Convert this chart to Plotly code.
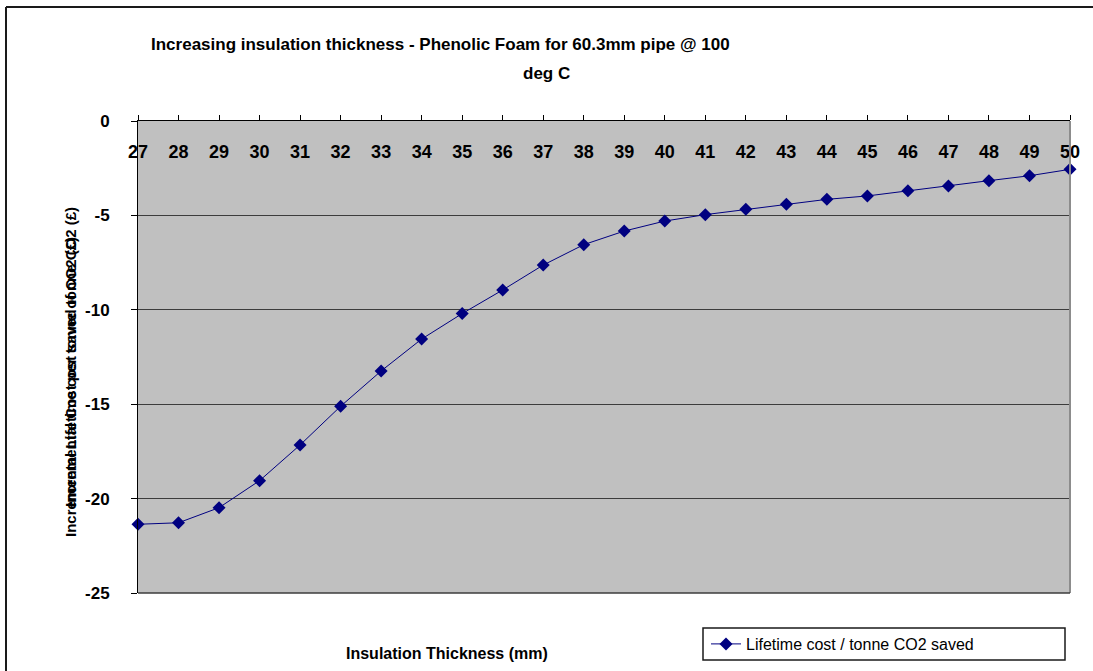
import plotly.graph_objects as go

# Insulation thickness (mm) and lifetime cost per tonne of CO2 saved (£)
thickness = [27, 28, 29, 30, 31, 32, 33, 34, 35, 36, 37, 38,
             39, 40, 41, 42, 43, 44, 45, 46, 47, 48, 49, 50]
cost_per_tonne = [-21.36, -21.28, -20.48, -19.05, -17.16, -15.11, -13.24, -11.55,
                  -10.20, -8.95, -7.63, -6.55, -5.83, -5.30, -4.96, -4.68,
                  -4.41, -4.15, -3.97, -3.69, -3.44, -3.16, -2.90, -2.56]

y_ticks = [0, -5, -10, -15, -20, -25]

title_line1 = "Increasing insulation thickness - Phenolic Foam for 60.3mm pipe @ 100"
title_line2 = "deg C"
x_title = "Insulation Thickness (mm)"
y_titles = ["Incremental Cost per tonne of CO2 (£)",
            "Incremental Lifetime cost saved tonne CO2 (£)"]
series_name = "Lifetime cost / tonne CO2 saved"

FONT = "Liberation Sans, Arial, sans-serif"
NAVY = "#000080"

fig = go.Figure()
fig.add_trace(go.Scatter(
    x=thickness, y=cost_per_tonne, mode="lines+markers", name=series_name,
    line=dict(color=NAVY, width=1),
    marker=dict(symbol="diamond", size=10, color=NAVY),
    cliponaxis=False,
))

W, H = 1093, 671
L, R, T, B = 138, 23, 121, 78
pw, ph = W - L - R, H - T - B


def px(x):
    return (x - L) / pw


def py(y):
    return (H - B - y) / ph


annotations = [
    dict(text="<b>%s</b>" % title_line1, x=px(440), y=py(44), xref="paper", yref="paper",
         showarrow=False, xanchor="center", yanchor="middle",
         font=dict(family=FONT, size=17, color="black")),
    dict(text="<b>%s</b>" % title_line2, x=px(546), y=py(74), xref="paper", yref="paper",
         showarrow=False, xanchor="center", yanchor="middle",
         font=dict(family=FONT, size=17, color="black")),
    dict(text="<b>%s</b>" % x_title, x=px(447), y=py(653), xref="paper", yref="paper",
         showarrow=False, xanchor="center", yanchor="middle",
         font=dict(family=FONT, size=16, color="black")),
]
for t in y_titles:
    annotations.append(dict(
        text="<b>%s</b>" % t, x=px(70), y=py(372), xref="paper", yref="paper",
        showarrow=False, xanchor="center", yanchor="middle", textangle=-90,
        font=dict(family=FONT, size=15, color="black", weight="bold")))

shapes = [
    # outer chart frame (top and left edges)
    dict(type="line", xref="paper", yref="paper", x0=px(6), x1=px(W + 5), y0=py(7), y1=py(7),
         line=dict(color="#1a1a1a", width=2)),
    dict(type="line", xref="paper", yref="paper", x0=px(6), x1=px(6), y0=py(7), y1=py(H + 5),
         line=dict(color="#1a1a1a", width=2)),
    # right and bottom edges of plot area
    dict(type="line", xref="paper", yref="paper", x0=1, x1=1, y0=0, y1=1,
         line=dict(color="#8c8c8c", width=2)),
    dict(type="line", xref="paper", yref="paper", x0=0, x1=1, y0=0, y1=0,
         line=dict(color="#3c3c3c", width=1.5)),
    # legend frame
    dict(type="rect", xref="paper", yref="paper", x0=px(703), x1=px(1065), y0=py(660), y1=py(628),
         line=dict(color="#1a1a1a", width=1.5), fillcolor="white", layer="below"),
]

fig.update_layout(
    width=W, height=H,
    margin=dict(l=L, r=R, t=T, b=B, autoexpand=False),
    paper_bgcolor="white", plot_bgcolor="#C0C0C0",
    showlegend=True,
    legend=dict(x=px(706), y=py(644), xanchor="left", yanchor="middle",
                bgcolor="rgba(0,0,0,0)", borderwidth=0,
                font=dict(family=FONT, size=16, color="black")),
    annotations=annotations, shapes=shapes,
    xaxis=dict(
        range=[27, 50], side="top", tickmode="array", tickvals=thickness,
        ticktext=[str(v) for v in thickness],
        ticks="outside", ticklen=5, tickcolor="black",
        ticklabelposition="inside", ticklabeloverflow="allow", ticklabelstandoff=25,
        showline=True, linecolor="black", linewidth=1, showgrid=False, zeroline=False,
        tickfont=dict(family=FONT, size=18, color="black", weight="bold"),
    ),
    yaxis=dict(
        range=[-25, 0], tickmode="array", tickvals=y_ticks,
        ticktext=[str(v) for v in y_ticks],
        ticks="outside", ticklen=6, tickcolor="black", ticklabelstandoff=18,
        showline=True, linecolor="black", linewidth=1,
        showgrid=True, gridcolor="#3c3c3c", gridwidth=1, zeroline=False,
        tickfont=dict(family=FONT, size=17, color="black", weight="bold"),
    ),
)

fig.write_html("out.html")
